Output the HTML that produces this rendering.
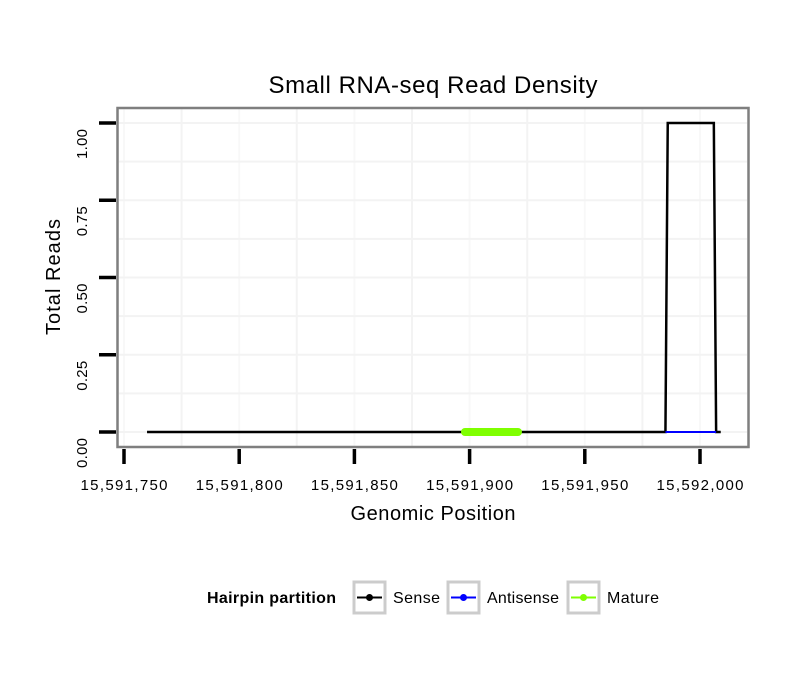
<!DOCTYPE html>
<html><head><meta charset="utf-8"><style>
body{margin:0;background:#fff;width:810px;height:690px;overflow:hidden}
svg text{font-family:"Liberation Sans",sans-serif}
</style></head><body>
<svg id="chart" width="810" height="690">
<text x="433" y="93" font-size="24" text-anchor="middle" textLength="329">Small RNA-seq Read Density</text>
<rect x="117.5" y="108" width="631" height="339" fill="#fff"/>
<g id="grid"></g>
<g id="series"></g>
<rect x="117.5" y="108" width="631" height="339" fill="none" stroke="#7f7f7f" stroke-width="2.5"/>
<g id="axes"></g>
<text x="433" y="520" font-size="20" text-anchor="middle" textLength="165">Genomic Position</text>
<text transform="translate(60,277) rotate(-90)" font-size="20" text-anchor="middle" textLength="116">Total Reads</text>
<g>
<text x="207" y="603" font-size="16" font-weight="bold" textLength="129">Hairpin partition</text>
<g><rect x="354" y="582" width="31" height="31" fill="#fff" stroke="#ccc" stroke-width="3"/><line x1="357" y1="597.5" x2="382" y2="597.5" stroke="#000" stroke-width="2"/><circle cx="369.5" cy="597.5" r="3.5" fill="#000"/><text x="393" y="603" font-size="16" textLength="47">Sense</text></g>
<g><rect x="448" y="582" width="31" height="31" fill="#fff" stroke="#ccc" stroke-width="3"/><line x1="451" y1="597.5" x2="476" y2="597.5" stroke="#00f" stroke-width="2"/><circle cx="463.5" cy="597.5" r="3.5" fill="#00f"/><text x="487" y="603" font-size="16" textLength="72">Antisense</text></g>
<g><rect x="568" y="582" width="31" height="31" fill="#fff" stroke="#ccc" stroke-width="3"/><line x1="571" y1="597.5" x2="596" y2="597.5" stroke="#7fff00" stroke-width="2"/><circle cx="583.5" cy="597.5" r="3.5" fill="#7fff00"/><text x="607" y="603" font-size="16" textLength="52">Mature</text></g>
</g>
</svg>
<script>
const xTicks=[15591750,15591800,15591850,15591900,15591950,15592000];
const yTicks=[0,0.25,0.5,0.75,1];
const yTickLabels=["0.00","0.25","0.50","0.75","1.00"];
const senseX=[15591760,15591985,15591986,15592006,15592007,15592009];
const senseY=[0,0,1,1,0,0];
const antisenseX=[15591985,15592007];
const antisenseY=[0,0];
const matureX=[15591898,15591921];
const matureY=[0,0];

const X=v=>124+(v-15591750)*2.304;
const Y=v=>432-v*309;
const NS="http://www.w3.org/2000/svg";
function mk(t,a,p){const e=document.createElementNS(NS,t);for(const k in a)e.setAttribute(k,a[k]);p.appendChild(e);return e;}
const grid=document.getElementById('grid'),axes=document.getElementById('axes'),ser=document.getElementById('series');
for(let i=0;i<xTicks.length;i++){
  const xs=[xTicks[i],xTicks[i]+25];
  xs.forEach((v,j)=>{const x=X(v);if(x>118&&x<748){const l=mk('line',{x1:x,x2:x,y1:109,y2:446,stroke:j?'#f3f3f3':'#f8f8f8','stroke-width':2},grid);
  
  }});
}
for(let v=-0.125;v<=1.125;v+=0.125){const y=Y(v);if(y>109&&y<446){const l=mk('line',{x1:119,x2:747,y1:y,y2:y,stroke:'#f3f3f3','stroke-width':2},grid);
  
  }}
xTicks.forEach(v=>{const x=X(v);
  const t=mk('line',{x1:x,x2:x,y1:449,y2:464,stroke:'#000','stroke-width':3.5},axes);
  
  
  const tx=mk('text',{x:x,y:490,'font-size':15,'text-anchor':'middle',textLength:87},axes);tx.textContent=v.toLocaleString('en-US');
  
  
});
yTicks.forEach((v,i)=>{const y=Y(v);
  const t=mk('line',{x1:99,x2:116,y1:y,y2:y,stroke:'#000','stroke-width':3.5},axes);
  
  
  const tx=mk('text',{transform:`translate(87,${y+6}) rotate(-90)`,'font-size':15,'text-anchor':'end',textLength:30},axes);tx.textContent=yTickLabels[i];
  
  
});
function line(xs,ys,c,w,name){
  const p=mk('polyline',{points:xs.map((x,i)=>X(x)+','+Y(ys[i])).join(' '),fill:'none',stroke:c,'stroke-width':w,'stroke-linecap':w>3?'round':'butt','stroke-linejoin':'miter'},ser);
  
  
}
line(senseX,senseY,'#000',2.5,'sense-line');
line(antisenseX,antisenseY,'#00f',2,'antisense-line');
line(matureX,matureY,'#7fff00',8,'mature-line');
</script>
</body></html>
